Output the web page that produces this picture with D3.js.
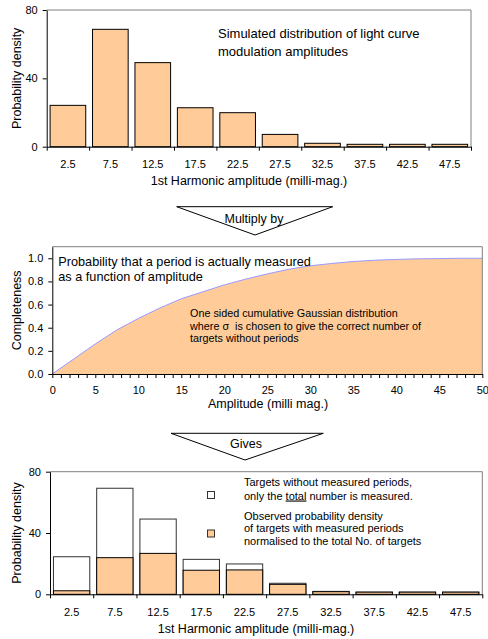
<!DOCTYPE html>
<html>
<head>
<meta charset="utf-8">
<script src="https://cdn.jsdelivr.net/npm/d3@7"></script>
<style>
  body { margin: 0; background: #fff; }
  svg text { font-family: "Liberation Sans", Arial, sans-serif; fill: #000; }
</style>
</head>
<body>
<svg id="chart" width="488" height="639"></svg>
<script>
// bins of 1st harmonic amplitude (milli-mag.)
const bins = ["2.5","7.5","12.5","17.5","22.5","27.5","32.5","37.5","42.5","47.5"];
// top panel: simulated distribution
const simulated = [24.2, 68.7, 49.2, 22.8, 19.9, 7.2, 2.0, 1.4, 1.4, 1.4];
// middle panel: completeness curve
const ampX = [0, 2.5, 5, 7.5, 10, 12.5, 15, 17.5, 20, 22.5, 25, 27.5, 30, 32.5, 35, 37.5, 40, 42.5, 45, 47.5, 50];
const completeness = [0, 0.13, 0.26, 0.38, 0.48, 0.57, 0.65, 0.71, 0.77, 0.82, 0.865, 0.905, 0.935, 0.955, 0.972, 0.983, 0.99, 0.995, 0.997, 1.0, 1.0];
// bottom panel
const totalTargets = [24.5, 69.2, 49.1, 22.8, 19.8, 7.2, 1.9, 1.4, 1.4, 1.4];
const measured = [2.3, 23.9, 26.7, 15.7, 15.9, 6.5, 1.7, 1.4, 1.4, 1.4];
const densityTicks = [0, 40, 80];
const complTicks = [0, 0.2, 0.4, 0.6, 0.8, 1.0];

const orange = "#ffcc99";
const svg = d3.select("#chart");

function frame(m){
    // grey top and right border of the plot area
    svg.append("path")
        .attr("d", "M" + m.l + "," + m.t + "H" + m.r + "V" + m.b)
        .attr("fill", "none").attr("stroke", "#808080").attr("stroke-width", 1);
}

function styleAxis(g, size){
    g.selectAll("path,line").attr("stroke", "#000");
    g.selectAll("text").style("font-size", (size || 11) + "px").attr("fill", "#000");
}

function yTitle(txt, x, m){
    svg.append("text")
        .attr("transform", "translate(" + x + "," + (m.t + m.b) / 2 + ") rotate(-90)")
        .attr("text-anchor", "middle")
        .style("font-size", "12.5px")
        .text(txt);
}

function label(lines, x, y, size, gap){
    lines.forEach((t, i) => {
        svg.append("text").attr("x", x).attr("y", y + i * gap)
            .style("font-size", size + "px").text(t);
    });
}

function histPanel(m, ylabel){
    const xb = d3.scaleBand().domain(bins).range([m.l, m.r]).paddingInner(0.16).paddingOuter(0.08);
    const xl = d3.scaleLinear().domain([0, 50]).range([m.l, m.r]);
    const y = d3.scaleLinear().domain([0, 80]).range([m.b, m.t]);
    frame(m);
    const gy = svg.append("g").attr("transform", "translate(" + m.l + ",0)")
        .call(d3.axisLeft(y).tickValues(densityTicks).tickSize(4).tickSizeOuter(0).tickPadding(5));
    styleAxis(gy);
    const gx = svg.append("g").attr("transform", "translate(0," + m.b + ")")
        .call(d3.axisBottom(xl).tickValues(d3.range(0, 51, 5)).tickSize(4).tickSizeOuter(0).tickFormat(""));
    styleAxis(gx);
    const gl = svg.append("g").attr("transform", "translate(0," + m.b + ")")
        .call(d3.axisBottom(xb).tickSize(0).tickPadding(14));
    gl.select(".domain").remove();
    styleAxis(gl);
    yTitle(ylabel, 21, m);
    return {xb, y};
}

// ---------- top panel ----------
const m1 = {l: 46.7, r: 471, t: 10, b: 146.7};
const p1 = histPanel(m1, "Probability density");
svg.insert("g", "g").selectAll("rect").data(simulated).join("rect")
    .attr("x", (d, i) => p1.xb(bins[i]))
    .attr("y", d => p1.y(d))
    .attr("width", p1.xb.bandwidth())
    .attr("height", d => p1.y(0) - p1.y(d))
    .attr("fill", orange).attr("stroke", "#000").attr("stroke-width", 1);
svg.append("text").attr("x", 249).attr("y", 184.5).attr("text-anchor", "middle")
    .style("font-size", "12.5px").text("1st Harmonic amplitude (milli-mag.)");
label(["Simulated distribution of light curve", "modulation amplitudes"], 218, 38, 13, 18.4);

// ---------- arrow 1 ----------
svg.append("path")
    .attr("d", d3.line()([[176.7, 206.7], [332.7, 206.7], [255, 235], [176.7, 206.7]]))
    .attr("fill", "#fff").attr("stroke", "#000").attr("stroke-width", 1);
svg.append("text").attr("x", 254).attr("y", 222.5).attr("text-anchor", "middle")
    .style("font-size", "12.5px").text("Multiply by");

// ---------- middle panel ----------
const m2 = {l: 52.3, r: 482.3, t: 246.7, b: 374};
const x2 = d3.scaleLinear().domain([0, 50]).range([m2.l, m2.r]);
const y2 = d3.scaleLinear().domain([0, 1.1]).range([m2.b, m2.t]);
const pts = ampX.map((a, i) => [a, completeness[i]]);
svg.append("path").datum(pts)
    .attr("fill", orange)
    .attr("d", d3.area().x(d => x2(d[0])).y0(y2(0)).y1(d => y2(d[1])));
svg.append("path").datum(pts)
    .attr("fill", "none").attr("stroke", "#9999ff").attr("stroke-width", 1)
    .attr("d", d3.line().x(d => x2(d[0])).y(d => y2(d[1])));
frame(m2);
const gy2 = svg.append("g").attr("transform", "translate(" + m2.l + ",0)")
    .call(d3.axisLeft(y2).tickValues(complTicks).tickFormat(d3.format(".1f")).tickSize(4).tickSizeOuter(0).tickPadding(5));
styleAxis(gy2);
const gx2 = svg.append("g").attr("transform", "translate(0," + m2.b + ")")
    .call(d3.axisBottom(x2).tickValues(d3.range(0, 51, 1)).tickSize(4).tickSizeOuter(0).tickPadding(8)
        .tickFormat(d => d % 5 === 0 ? d : ""));
styleAxis(gx2);
yTitle("Completeness", 21, m2);
svg.append("text").attr("x", 268).attr("y", 408).attr("text-anchor", "middle")
    .style("font-size", "12.5px").text("Amplitude (milli mag.)");
label(["Probability that a period is actually measured", "as a function of amplitude"], 58.3, 265.5, 12.7, 15.7);
label(["One sided cumulative Gaussian distribution",
       "where \u03c3 \u00a0is chosen to give the correct number of",
       "targets without periods"], 190, 317, 10.8, 12.5);

// ---------- arrow 2 ----------
svg.append("path")
    .attr("d", d3.line()([[171, 433.3], [323.3, 433.3], [245, 460], [171, 433.3]]))
    .attr("fill", "#fff").attr("stroke", "#000").attr("stroke-width", 1);
svg.append("text").attr("x", 246).attr("y", 447.5).attr("text-anchor", "middle")
    .style("font-size", "12.5px").text("Gives");

// ---------- bottom panel ----------
const m3 = {l: 50, r: 482.3, t: 471.7, b: 594.3};
const p3 = histPanel(m3, "Probability density");
const bars3 = svg.insert("g", "g");
bars3.selectAll("rect.total").data(totalTargets).join("rect").attr("class", "total")
    .attr("x", (d, i) => p3.xb(bins[i]))
    .attr("y", d => p3.y(d))
    .attr("width", p3.xb.bandwidth())
    .attr("height", d => p3.y(0) - p3.y(d))
    .attr("fill", "#fff").attr("stroke", "#333").attr("stroke-width", 1);
bars3.selectAll("rect.meas").data(measured).join("rect").attr("class", "meas")
    .attr("x", (d, i) => p3.xb(bins[i]))
    .attr("y", d => p3.y(d))
    .attr("width", p3.xb.bandwidth())
    .attr("height", d => p3.y(0) - p3.y(d))
    .attr("fill", orange).attr("stroke", "#000").attr("stroke-width", 1);
svg.append("text").attr("x", 256).attr("y", 632.5).attr("text-anchor", "middle")
    .style("font-size", "12.5px").text("1st Harmonic amplitude (milli-mag.)");

// legend
svg.append("rect").attr("x", 207.5).attr("y", 491.5).attr("width", 7).attr("height", 7)
    .attr("fill", "#fff").attr("stroke", "#333");
svg.append("rect").attr("x", 207.5).attr("y", 530).attr("width", 7).attr("height", 7)
    .attr("fill", orange).attr("stroke", "#333");
label(["Targets without measured periods,"], 244, 485.5, 11, 0);
const t2 = svg.append("text").attr("x", 244).attr("y", 499.5).style("font-size", "11px");
t2.append("tspan").text("only the ");
t2.append("tspan").style("text-decoration", "underline").text("total");
t2.append("tspan").text(" number is measured.");
label(["Observed probability density",
       "of targets with measured periods",
       "normalised to the total No. of targets"], 244, 519.5, 11, 12.5);
</script>
</body>
</html>
